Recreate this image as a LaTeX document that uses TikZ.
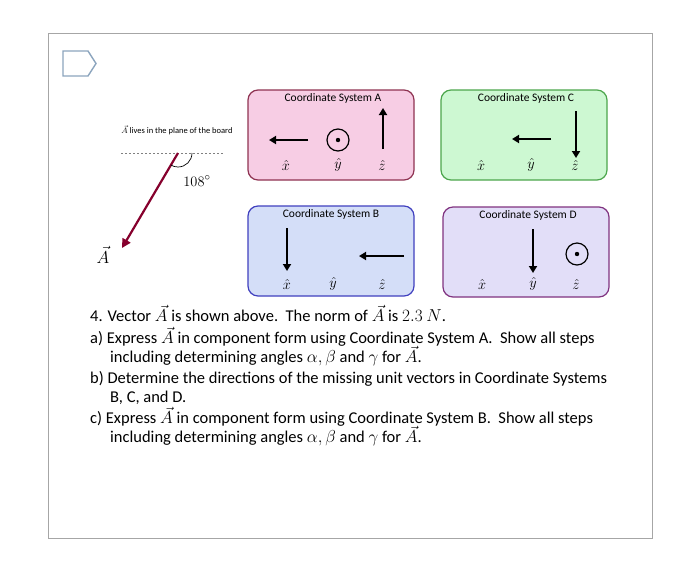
\documentclass[tikz,border=0pt]{standalone}
\usepackage{fontspec}
\setsansfont{Carlito}
\usetikzlibrary{arrows.meta}
\definecolor{pinkA}{RGB}{247,205,228}
\definecolor{blueB}{RGB}{212,222,248}
\definecolor{greenC}{RGB}{205,248,210}
\definecolor{violD}{RGB}{226,222,248}
\definecolor{tagc}{RGB}{140,165,190}
\begin{document}
\begin{tikzpicture}[x=1pt,y=-1pt,
  csbox/.style={draw, rounded corners=10pt, line width=1.2pt},
  ttl/.style={font=\sffamily\fontsize{11.5}{13}\selectfont},
  lbl/.style={font=\fontsize{14}{16}\selectfont},
  uvec/.style={line width=2.2pt, -{Triangle[length=7pt,width=8pt]}},
  qtext/.style={font=\sffamily\fontsize{16.5}{19}\selectfont, anchor=west, inner sep=0pt, text height=9pt, text depth=2pt}]
\useasboundingbox (0,0) rectangle (700,587);
\fill[white] (0,0) rectangle (700,587);
\draw[gray!70, line width=0.8pt] (48,33) rectangle (652,538);
\draw[tagc, line width=1.4pt] (63,51) -- (88,51) -- (96,63.5) -- (88,76) -- (63,76) -- cycle;
% boxes
\draw[csbox, draw=purple!60!black!80, fill=pinkA] (248,90) rectangle (414,180);
\draw[csbox, draw=blue!50!gray, fill=blueB] (248,206) rectangle (414,296);
\draw[csbox, draw=green!50!black!70, fill=greenC] (441,90) rectangle (607,180);
\draw[csbox, draw=violet!60!gray, fill=violD] (443,207) rectangle (609,297);
\node[ttl] (tA) at (333,98) {Coordinate System A};
\node[ttl] (tB) at (331,214) {Coordinate System B};
\node[ttl] (tC) at (526,98) {Coordinate System C};
\node[ttl] (tD) at (528,215) {Coordinate System D};
% A
\coordinate (a1) at (308,140); \coordinate (a2) at (269,140);
\draw[uvec] (a1) -- (a2);
\node[draw, circle, line width=1.2pt, minimum size=22pt, inner sep=0pt] (ay) at (338,140) {}; \fill (ay) circle (2.2pt);
\coordinate (a3) at (383,149); \coordinate (a4) at (383,108);
\draw[uvec] (a3) -- (a4);
\node[lbl] (ax) at (286,165) {$\hat x$}; \node[lbl] (ayl) at (338,165) {$\hat y$}; \node[lbl] (az) at (382,165) {$\hat z$};
% B
\coordinate (b1) at (287,228); \coordinate (b2) at (287,271);
\draw[uvec] (b1) -- (b2);
\coordinate (b3) at (404,256); \coordinate (b4) at (359,256);
\draw[uvec] (b3) -- (b4);
\node[lbl] (bx) at (287,284) {$\hat x$}; \node[lbl] (by) at (333,284) {$\hat y$}; \node[lbl] (bz) at (382,284) {$\hat z$};
% C
\coordinate (c1) at (551,139); \coordinate (c2) at (512,139);
\draw[uvec] (c1) -- (c2);
\coordinate (c3) at (576,111); \coordinate (c4) at (576,158);
\draw[uvec] (c3) -- (c4);
\node[lbl] (cx) at (481,165) {$\hat x$}; \node[lbl] (cy) at (531,165) {$\hat y$}; \node[lbl] (cz) at (575,165) {$\hat z$};
% D
\coordinate (d1) at (533,229); \coordinate (d2) at (533,273);
\draw[uvec] (d1) -- (d2);
\node[draw, circle, line width=1.2pt, minimum size=22pt, inner sep=0pt] (dz) at (577,254) {}; \fill (dz) circle (2.2pt);
\node[lbl] (dx) at (482,284) {$\hat x$}; \node[lbl] (dy) at (533,284) {$\hat y$}; \node[lbl] (dzl) at (576,284) {$\hat z$};
% vector A
\node[font=\sffamily\fontsize{8.5}{10}\selectfont, inner sep=1pt] (lv) at (177,130) {$\vec A$ lives in the plane of the board};
\coordinate (l1) at (121,153); \coordinate (l2) at (223,153);
\draw[gray, dash pattern=on 2pt off 2pt, line width=0.7pt] (l1) -- (l2);
\coordinate (o) at (178,153); \coordinate (e) at (122,248);
\draw[line width=2.2pt, draw=purple!70!black, -{Triangle[length=9pt,width=9pt]}] (o) -- (e);
\draw[line width=0.7pt] (192,153) arc[start angle=0, end angle=-120, radius=14pt];
\node[font=\fontsize{15}{17}\selectfont] (ang) at (197,181) {$108^\circ$};
\node[font=\fontsize{17}{19}\selectfont] (vA) at (103,255) {$\vec A$};
% text
\node[qtext] (q1) at (90,318) {4. Vector $\vec A$ is shown above.\ \ The norm of $\vec A$ is $2.3\ N$.};
\node[qtext] (q2) at (90,340) {a) Express $\vec A$ in component form using Coordinate System A.\ \ Show all steps};
\node[qtext] (q3) at (110,359) {including determining angles $\alpha,\beta$ and $\gamma$ for $\vec A$.};
\node[qtext] (q4) at (90,380) {b) Determine the directions of the missing unit vectors in Coordinate Systems};
\node[qtext] (q5) at (110,399) {B, C, and D.};
\node[qtext] (q6) at (90,420) {c) Express $\vec A$ in component form using Coordinate System B.\ \ Show all steps};
\node[qtext] (q7) at (110,439) {including determining angles $\alpha,\beta$ and $\gamma$ for $\vec A$.};
\end{tikzpicture}
\end{document}
